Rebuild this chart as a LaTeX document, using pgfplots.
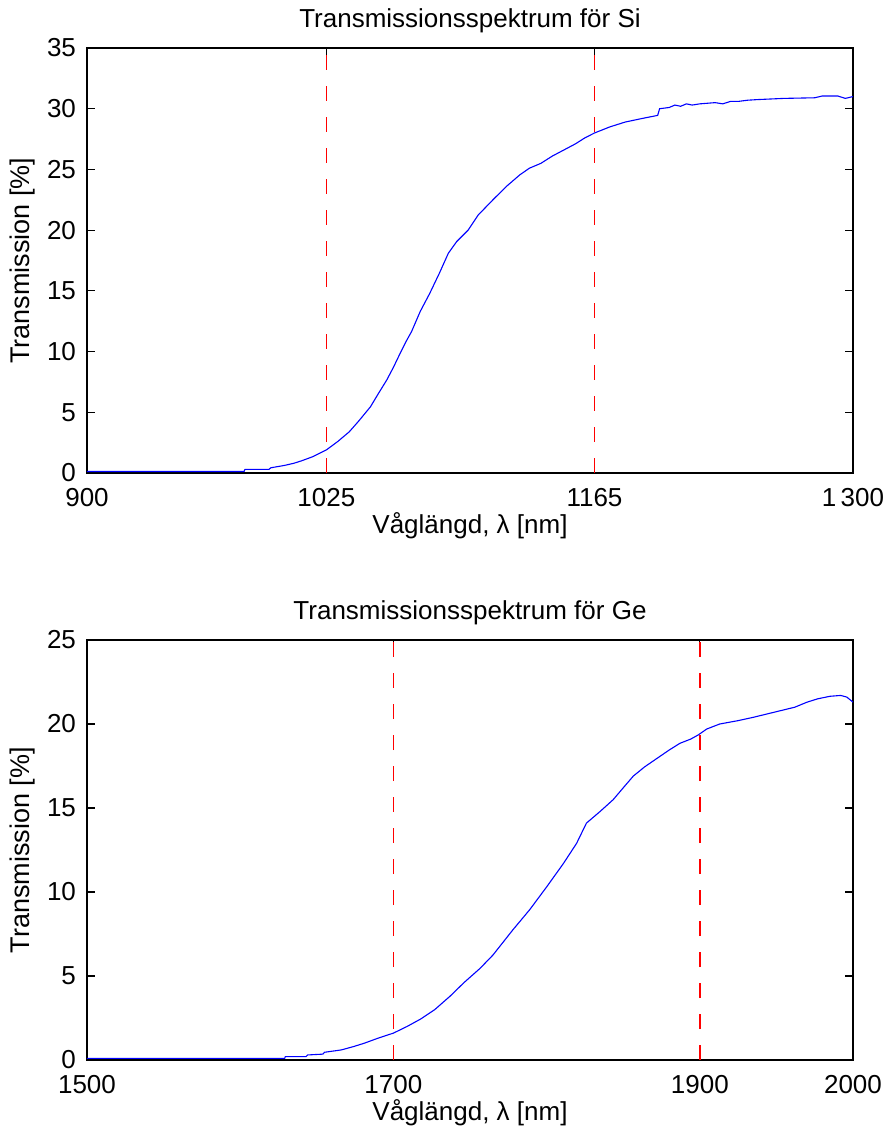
\documentclass[border=0pt]{standalone}
\usepackage{fontspec}
\setmainfont{Liberation Sans}
\usepackage{pgfplots}
\pgfplotsset{compat=1.18}

\definecolor{mred}{RGB}{255,0,0}
\definecolor{mblue}{RGB}{0,0,255}

\pgfplotsset{
  matlab/.style={
    scale only axis, width=383pt,
    anchor=south west,
    axis line style={line width=0.8pt},
    tick align=inside, tick style={black, line width=0.6pt}, major tick length=4pt,
    every tick label/.append style={font=\fontsize{13}{15}\selectfont},
    /pgf/number format/assume math mode=true,
    label style={font=\fontsize{13}{15}\selectfont},
    title style={font=\fontsize{13}{15}\selectfont, yshift=-2pt},
    ylabel={Transmission [\%]},
    xlabel={Våglängd, λ [nm]},
    xlabel style={yshift=4pt},
    ylabel style={yshift=-1pt, font=\fontsize{13.5}{15}\selectfont},
    xticklabel style={yshift=-4pt},
    yticklabel style={xshift=-2pt},
  },
  spec/.style={color=mblue, line width=0.55pt},
  cutline/.style={red, line width=0.8pt, dash pattern=on 7.5pt off 8pt},
}

\begin{document}
\begin{tikzpicture}
\useasboundingbox (-43.5pt,-330pt) rectangle (402pt,236.5pt);

\begin{axis}[matlab, at={(0pt,0pt)}, height=212.5pt,
  title={Transmissionsspektrum för Si},
  xmin=900, xmax=1300, ymin=0, ymax=35,
  xtick={900,1025,1165,1300}, xticklabels={900,1025,1165,1\,300},
  ytick={0,5,...,35},
]
\addplot[spec] coordinates {
(900,0.12)(940,0.12)(982,0.12)(982.5,0.3)(995,0.3)(996,0.43)(1003,0.62)(1008,0.8)
(1012,1.0)(1018,1.35)(1025,1.9)(1031,2.6)(1037,3.4)(1042,4.3)(1048,5.45)(1052,6.5)
(1056.5,7.65)(1060,8.7)(1063.5,9.85)(1066.5,10.8)(1069.5,11.65)(1074,13.3)(1079,14.8)
(1084,16.45)(1088.7,18.1)(1093,19.05)(1099,20.0)(1104.3,21.25)(1112,22.5)(1119,23.6)
(1126,24.55)(1131,25.1)(1137,25.5)(1143,26.1)(1149,26.6)(1155,27.1)(1160,27.6)(1165,28.0)
(1173,28.5)(1181,28.9)(1190,29.2)(1198,29.45)(1199,30.0)(1204,30.1)(1207,30.3)(1210,30.2)
(1213,30.4)(1216,30.3)(1220,30.4)(1228,30.5)(1232,30.4)(1236,30.6)(1240,30.6)(1245,30.7)
(1250,30.75)(1264,30.85)(1280,30.9)(1284,31.05)(1292,31.05)(1296,30.85)(1300,31.0)};
\addplot[cutline] coordinates {(1025,0)(1025,35)};
\addplot[cutline] coordinates {(1165,0)(1165,35)};
\end{axis}

\begin{axis}[matlab, at={(0pt,-293.5pt)}, height=210pt,
  title={Transmissionsspektrum för Ge},
  xmin=1500, xmax=2000, ymin=0, ymax=25,
  xtick={1500,1700,1900,2000}, xticklabels={1500,1700,1900,2000},
  ytick={0,5,...,25},
]
\addplot[spec] coordinates {
(1500,0.1)(1560,0.1)(1629,0.1)(1629.5,0.2)(1643,0.2)(1644,0.3)(1654,0.35)(1655,0.46)
(1666,0.6)(1674,0.8)(1681,1.0)(1690,1.3)(1700,1.6)(1709,2.0)(1718,2.45)(1727,3.0)
(1737,3.8)(1746,4.6)(1756.5,5.45)(1765,6.25)(1778,7.75)(1789,8.95)(1800,10.3)(1811,11.7)
(1819.6,12.9)(1826,14.1)(1835,14.8)(1843.5,15.5)(1850,16.2)(1856.6,16.9)(1864,17.45)
(1872,17.95)(1880,18.45)(1887,18.85)(1894,19.1)(1899,19.35)(1904.5,19.7)(1913,20.0)
(1925,20.2)(1935,20.4)(1944,20.6)(1953,20.8)(1962,21.0)(1970,21.3)(1977,21.5)
(1985,21.65)(1992,21.7)(1996,21.6)(2000,21.3)};
\addplot[cutline] coordinates {(1700,0)(1700,25)};
\addplot[cutline] coordinates {(1900,0)(1900,25)};
\end{axis}
\end{tikzpicture}
\end{document}
